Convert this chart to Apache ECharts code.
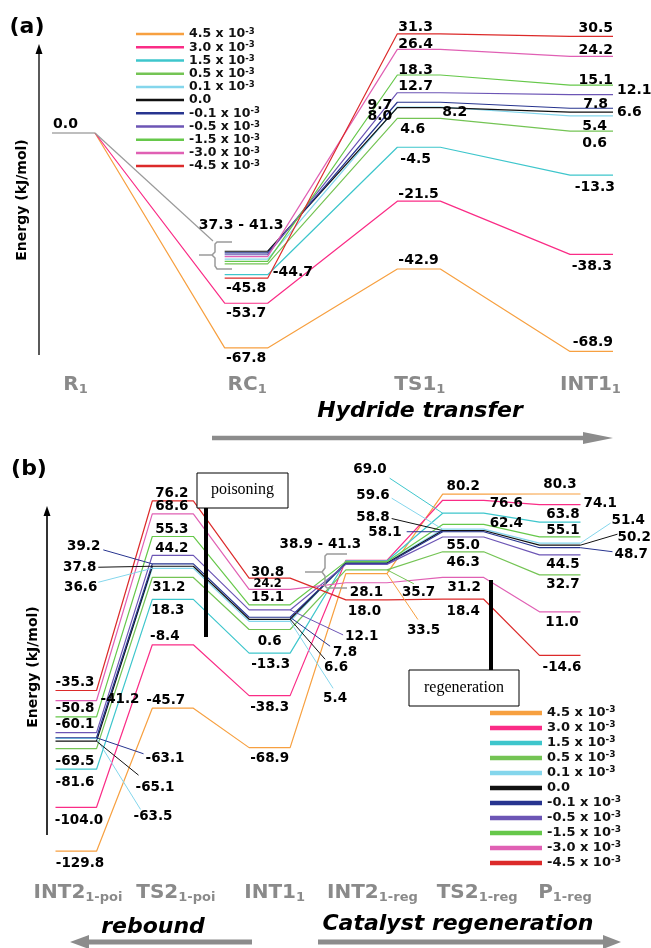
<!DOCTYPE html>
<html><head><meta charset="utf-8">
<script src="https://cdn.jsdelivr.net/npm/echarts@6.0.0/dist/echarts.min.js"></script>
<style>html,body{margin:0;padding:0;background:#fff}#c{width:651px;height:948px}</style>
</head><body><div id="c"></div>
<script>
// ---------- DATA ----------
const names = ['4.5 x 10-3','3.0 x 10-3','1.5 x 10-3','0.5 x 10-3','0.1 x 10-3','0.0','-0.1 x 10-3','-0.5 x 10-3','-1.5 x 10-3','-3.0 x 10-3','-4.5 x 10-3'];
const colors = ['#f7a040','#fa2c86','#3ec6cc','#74c454','#84d6ec','#111111','#27348f','#6c55b5','#66c84a','#e060b4','#dc2a2a'];

// Panel (a): hydride transfer
const statesA = ['R{s|1}','RC{s|1}','TS1{s|1}','INT1{s|1}'];
const aR1   = [0.0,0.0,0.0,0.0,0.0,0.0,0.0,0.0,0.0,0.0,0.0];
const aRC1  = [-67.8,-53.7,-44.7,-41.3,-39.8,-37.3,-37.8,-38.4,-40.5,-39.0,-45.8];
const aTS1  = [-42.9,-21.5,-4.5,4.6,8.2,8.0,9.7,12.7,18.3,26.4,31.3];
const aINT1 = [-68.9,-38.3,-13.3,0.6,5.4,6.6,7.8,12.1,15.1,24.2,30.5];
const aR1Linked = ['4.5 x 10-3','3.0 x 10-3'];
const aGroupLabel = '37.3 - 41.3';

// Panel (b): rebound / catalyst regeneration
const statesB = ['INT2{s|1-poi}','TS2{s|1-poi}','INT1{s|1}','INT2{s|1-reg}','TS2{s|1-reg}','P{s|1-reg}'];
const bINT2poi = [-129.8,-104.0,-81.6,-69.5,-63.5,-65.1,-63.1,-60.1,-50.8,-41.2,-35.3];
const bTS2poi  = [-45.7,-8.4,18.3,31.2,36.6,37.8,39.2,44.2,55.3,68.6,76.2];
const bINT1    = [-68.9,-38.3,-13.3,0.6,5.4,6.6,7.8,12.1,15.1,24.2,30.8];
const bINT2reg = [33.5,41.3,40.9,35.7,40.1,39.7,39.3,38.9,40.5,28.1,18.0];
const bTS2reg  = [80.2,76.6,69.0,46.3,59.6,58.8,58.1,55.0,62.4,31.2,18.4];
const bP1reg   = [80.3,74.1,63.8,32.7,51.4,50.2,48.7,44.5,55.1,11.0,-14.6];
const bGroupLabel = '38.9 - 41.3';

// ---------- CHART ----------
const FONT = 'DejaVu Sans';
const hA = 0.1245, hB = 0.212;
const valsA = [aR1, aRC1, aTS1, aINT1];
const valsB = [bINT2poi, bTS2poi, bINT1, bINT2reg, bTS2reg, bP1reg];

const chart = echarts.init(document.getElementById('c'));
const series = [];
// gray R1 level
series.push({type:'line', name:'R1 level', xAxisIndex:0, yAxisIndex:0, symbol:'none', silent:true,
  lineStyle:{width:1.5,color:'#a8a8a8'}, color:'#a8a8a8', data:[[-hA,aR1[5]],[hA,aR1[5]]], z:1});
names.forEach((n,k)=>{
  const pa = [];
  if (aR1Linked.indexOf(n) >= 0) pa.push([hA, aR1[k]]);
  for (let s=1; s<valsA.length; s++){ pa.push([s-hA, valsA[s][k]],[s+hA, valsA[s][k]]); }
  series.push({type:'line', name:n, xAxisIndex:0, yAxisIndex:0, symbol:'none', silent:true,
    color:colors[k], lineStyle:{width:1.2,color:colors[k]}, data:pa, z:2});
  const pb = [];
  for (let s=0; s<valsB.length; s++){ pb.push([s-hB, valsB[s][k]],[s+hB, valsB[s][k]]); }
  series.push({type:'line', name:n, xAxisIndex:1, yAxisIndex:1, symbol:'none', silent:true,
    color:colors[k], lineStyle:{width:1.2,color:colors[k]}, data:pb, z:2});
});

const legFmt = n => n.replace(/x 10-3$/, 'x 10{s|-3}');
const option = {
  animation:false,
  grid:[{left:52, top:6.2, width:561, height:380.4},{left:55.5, top:477.5, width:525, height:391}],
  xAxis:[{type:'value', gridIndex:0, min:-hA, max:3+hA, show:false},
         {type:'value', gridIndex:1, min:-hB, max:5+hB, show:false}],
  yAxis:[{type:'value', gridIndex:0, min:-80, max:40, show:false},
         {type:'value', gridIndex:1, min:-140, max:90, show:false}],
  legend:[
    {data:names, orient:'vertical', left:136, top:27.5, padding:0, itemWidth:48, itemHeight:2.5, itemGap:0, icon:'rect',
     selectedMode:false, formatter:legFmt,
     textStyle:{fontFamily:FONT, fontWeight:'bold', fontSize:12.5, color:'#111', lineHeight:13.2,
       rich:{s:{fontFamily:FONT, fontWeight:'bold', fontSize:8.5, lineHeight:6, verticalAlign:'top', color:'#111'}}}},
    {data:names, orient:'vertical', left:490, top:705.5, padding:0, itemWidth:52, itemHeight:4.5, itemGap:0, icon:'rect',
     selectedMode:false, formatter:legFmt,
     textStyle:{fontFamily:FONT, fontWeight:'bold', fontSize:13, color:'#111', lineHeight:15,
       rich:{s:{fontFamily:FONT, fontWeight:'bold', fontSize:9, lineHeight:7, verticalAlign:'top', color:'#111'}}}}
  ],
  series:series
};
chart.setOption(option);

// ---------- ANNOTATIONS ----------
const px = (g,x,y) => chart.convertToPixel({xAxisIndex:g, yAxisIndex:g}, [x,y]);
const G = [];
function txt(x,y,text,o){
  const st = Object.assign({text:text, fill:'#000', fontFamily:FONT, fontWeight:'bold', fontSize:14,
    align:'center', verticalAlign:'middle', textAlign:'center', textVerticalAlign:'middle'}, o||{});
  if (o && o.align) st.textAlign = o.align;
  G.push({type:'text', z:50, x:x, y:y, rotation:(o&&o.rot)||0, style:st});
}
function ln(pts,color,w,z){ G.push({type:'polyline', z:z||40, shape:{points:pts}, style:{stroke:color, lineWidth:w, fill:null}}); }
function poly(pts,color){ G.push({type:'polygon', z:40, shape:{points:pts}, style:{fill:color}}); }

function placeLabels(g, vals, h, specs, fs){
  specs.forEach(sp=>{
    const [st, si, anc, dx, dy, al, lx, ly, f] = sp;
    const v = vals[st][si];
    const ax = st + (anc==='l' ? -h : anc==='r' ? h : 0);
    const p = px(g, ax, v);
    if (lx != null) ln([[p[0],p[1]],[p[0]+lx,p[1]+ly]], colors[si], 1);
    txt(p[0]+dx, p[1]+dy, v.toFixed(1), {align:al, fontSize:f||fs});
  });
}

const labelsA = [
 [0,5,'c',-8,-9,'center'],
 [1,0,'c',0,10,'center'],[1,1,'c',0,10,'center'],[1,2,'r',5,-2,'left'],[1,10,'c',0,10,'center'],
 [2,0,'l',1,-9,'left'],[2,1,'l',1,-7,'left'],[2,2,'l',3,12,'left'],[2,3,'l',3,11,'left'],[2,4,'r',2,5,'left'],
 [2,5,'l',-5,9,'right'],[2,6,'l',-5,3,'right'],[2,7,'l',1,-6,'left'],[2,8,'l',1,-5,'left'],[2,9,'l',1,-5,'left'],[2,10,'l',1,-6,'left'],
 [3,0,'r',0,-9,'right'],[3,1,'r',-1,12,'right'],[3,2,'r',2,12,'right'],[3,3,'r',-6,12,'right'],[3,4,'r',-6,10,'right'],
 [3,5,'r',4,0,'left'],[3,6,'r',-5,-4,'right'],[3,7,'r',4,-4,'left'],[3,8,'r',0,-5,'right'],[3,9,'r',0,-6,'right'],[3,10,'r',0,-8,'right']
];
const labelsB = [
 [0,0,'c',4,12,'center'],[0,1,'c',3,13,'center'],[0,2,'c',-1,13,'center'],[0,3,'c',-1,13,'center'],
 [0,4,'r',37,78,'left',44,71],[0,5,'r',39,46,'left',42,34],[0,6,'r',49,21,'left',47,16],
 [0,7,'c',-1,-8,'center'],[0,8,'c',-1,-8,'center'],[0,9,'r',4,-1,'left'],[0,10,'c',-1,-8,'center'],
 [1,0,'c',-7,-8,'center'],[1,1,'c',-8,-8,'center'],[1,2,'c',-5,11,'center'],[1,3,'c',-4,10,'center'],
 [1,4,'l',-55,19,'right',-54,14],[1,5,'l',-56,1,'right',-54,1],[1,6,'l',-52,-17,'right',-49,-14],
 [1,7,'c',-1,-7,'center'],[1,8,'c',-1,-7,'center'],[1,9,'c',-1,-7,'center'],[1,10,'c',-1,-7,'center'],
 [2,0,'c',0,11,'center'],[2,1,'c',0,12,'center'],[2,2,'c',1,11,'center'],[2,3,'c',0,12,'center'],
 [2,4,'r',33,77,'left',43,67],[2,5,'r',34,48,'left',35,40],[2,6,'r',43,35,'left',40,29],[2,7,'r',55,27,'left',53,25],
 [2,8,'c',-2,-7,'center'],[2,9,'c',-2,-5,'center',null,null,11.5],[2,10,'c',-2,-6,'center'],
 [3,0,'r',20,57,'left',31,46],[3,3,'r',15,23,'left',27,14],[3,9,'c',0,10,'center'],[3,10,'c',-2,12,'center'],
 [4,0,'c',0,-8,'center'],[4,1,'r',6,3,'left'],[4,2,'l',-56,-44,'right',-53,-35],[4,3,'c',0,11,'center'],
 [4,4,'l',-53,-34,'right',-51,-31],[4,5,'l',-53,-13,'right',-51,-12],[4,6,'l',-41,1,'right',-36,0],
 [4,7,'c',0,8,'center'],[4,8,'r',6,-1,'left'],[4,9,'c',1,10,'center'],[4,10,'c',0,12,'center'],
 [5,0,'c',0,-9,'center'],[5,1,'r',3,-1,'left'],[5,2,'c',3,-8,'center'],[5,3,'c',3,10,'center'],
 [5,4,'r',31,-23,'left',30,-20],[5,5,'r',37,-8,'left',37,-11],[5,6,'r',34,7,'left',32,4],
 [5,7,'c',3,10,'center'],[5,8,'c',3,-6,'center'],[5,9,'c',2,11,'center'],[5,10,'c',2,12,'center']
];
placeLabels(0, valsA, hA, labelsA, 14);
placeLabels(1, valsB, hB, labelsB, 13.5);

// group labels + braces
let p = px(0, 1, aRC1[5]);
txt(p[0]-5, p[1]-26, aGroupLabel, {fontSize:14});
p = px(1, 3, bINT2reg[1]);
txt(p[0]-46, p[1]-16, bGroupLabel, {fontSize:13.5});
const braceCol = '#9a9a9a';
ln([[232,242],[217,242],[215,244],[215,252],[212,255],[199,255],[212,255],[215,258],[215,266],[217,269],[232,269]], braceCol, 1.5);
const r1 = px(0, hA, aR1[5]);
ln([[r1[0],r1[1]],[213,241]], braceCol, 1.2);
ln([[347,554],[327,554],[325,556],[325,568],[322,572],[305,572],[322,572],[325,576],[325,586],[327,588],[347,588]], braceCol, 1.5);

// category labels
const subRich = c => ({s:{fontFamily:FONT, fontWeight:'bold', fontSize:13, fill:c, lineHeight:12, verticalAlign:'bottom'}});
const catDxA = [2,1,1,-1];
statesA.forEach((s,i)=>{ const q = px(0,i,0); txt(q[0]+catDxA[i], 385, s, {fontSize:20, fill:'#8a8a8a', lineHeight:22, rich:subRich('#8a8a8a')}); });
const catDxB = [2,3,5,6,14,5];
statesB.forEach((s,i)=>{ const q = px(1,i,0); txt(q[0]+catDxB[i], 893, s, {fontSize:20, fill:'#8a8a8a', lineHeight:22, rich:subRich('#8a8a8a')}); });

// panel titles & axis titles
txt(27, 27, '(a)', {fontSize:22});
txt(29, 469, '(b)', {fontSize:22});
txt(22, 200, 'Energy (kJ/mol)', {fontSize:14, rot:Math.PI/2});
txt(33, 667, 'Energy (kJ/mol)', {fontSize:14, rot:Math.PI/2});
// y arrows
ln([[39,355],[39,52]], '#000', 1.3);
poly([[39,44],[35.5,54],[42.5,54]], '#000');
ln([[47,835],[47,514]], '#333', 2);
poly([[47,506],[43.5,516],[50.5,516]], '#000');

// process arrows
const arrCol = '#8c8c8c';
txt(420, 411, 'Hydride transfer', {fontSize:22, fontStyle:'italic'});
ln([[212,438],[586,438]], arrCol, 4.5);
poly([[583,432],[613,438],[583,444]], arrCol);
txt(153, 927, 'rebound', {fontSize:22, fontStyle:'italic'});
ln([[252,942],[86,942]], arrCol, 5);
poly([[89,935],[70,942],[89,949]], arrCol);
txt(458, 924, 'Catalyst regeneration', {fontSize:22, fontStyle:'italic'});
ln([[318,942],[606,942]], arrCol, 5);
poly([[603,935],[621,942],[603,949]], arrCol);

// poisoning / regeneration boxes
G.push({type:'rect', z:60, shape:{x:197,y:473,width:91,height:35}, style:{fill:'#fff', stroke:'#000', lineWidth:1}});
txt(242.5, 490, 'poisoning', {fontFamily:'Liberation Serif', fontWeight:'normal', fontSize:16});
ln([[206,508],[206,637]], '#000', 4, 60);
G.push({type:'rect', z:60, shape:{x:409,y:670,width:110,height:36}, style:{fill:'#fff', stroke:'#000', lineWidth:1}});
txt(464, 688, 'regeneration', {fontFamily:'Liberation Serif', fontWeight:'normal', fontSize:16});
ln([[491,580],[491,670]], '#000', 4, 60);

G.forEach(e=>{ if(e.type==='text') e.z = 70; });
chart.setOption({graphic:{elements:G}});
</script>
</body></html>
